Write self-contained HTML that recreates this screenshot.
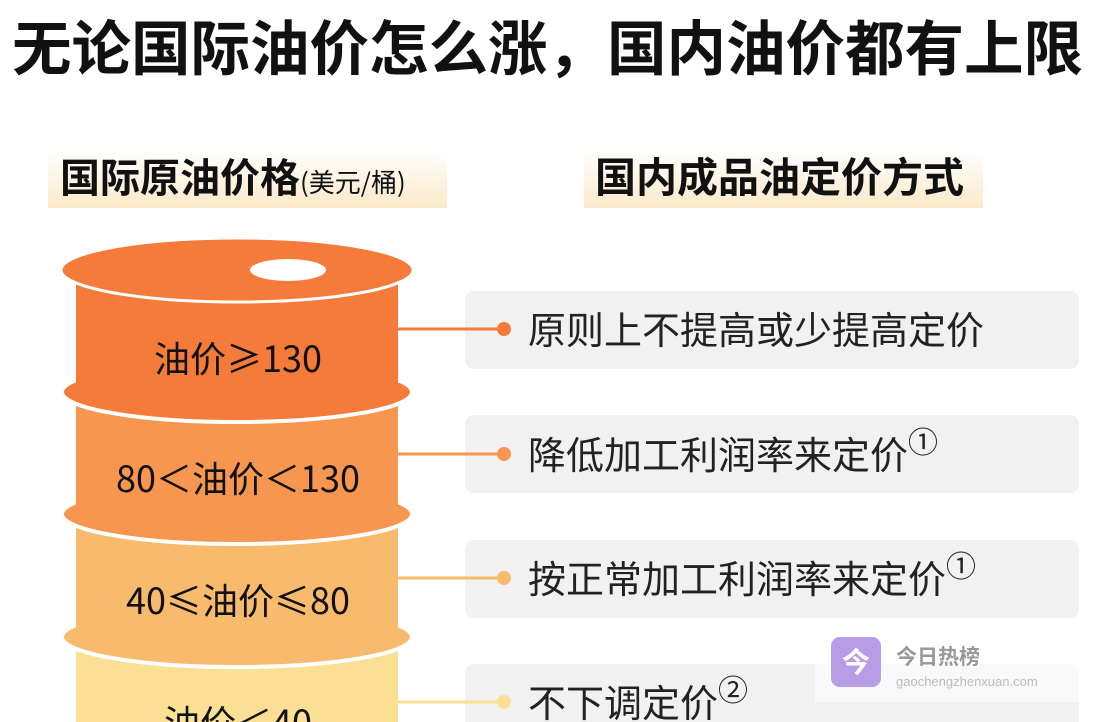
<!DOCTYPE html>
<html><head><meta charset="utf-8"><style>
html,body{margin:0;width:1116px;height:722px;overflow:hidden;background:#fff;font-family:"Liberation Sans","Noto Sans CJK SC",sans-serif;}
svg{display:block;overflow:hidden}
</style></head><body>
<svg width="1116" height="722" viewBox="0 0 1116 722" xmlns="http://www.w3.org/2000/svg">
<defs>
<linearGradient id="hl" x1="0" y1="0" x2="0" y2="1"><stop offset="0" stop-color="#fff"/><stop offset="1" stop-color="#fbe9c8"/></linearGradient>
<clipPath id="c"><rect x="0" y="0" width="1116" height="722"/></clipPath>
</defs>
<g clip-path="url(#c)">
<text x="12" y="70" font-family="Noto Sans CJK SC, sans-serif" font-weight="bold" font-size="59.5" fill="#111">无论国际油价怎么涨，国内油价都有上限</text>
<rect x="48" y="150" width="399" height="58" fill="url(#hl)"/>
<rect x="584" y="150" width="399" height="58" fill="url(#hl)"/>
<text x="60" y="192" font-family="Noto Sans CJK SC, sans-serif" font-weight="bold" font-size="40" fill="#111">国际原油价格<tspan font-size="26" font-weight="normal">(美元/桶)</tspan></text>
<text x="595" y="192" font-family="Noto Sans CJK SC, sans-serif" font-weight="bold" font-size="41" fill="#111">国内成品油定价方式</text>

<ellipse cx="237" cy="760" rx="175" ry="30" fill="#fbdf94" stroke="#fff" stroke-width="4"/>
<rect x="76" y="650" width="322" height="110" fill="#fbdf94"/>
<ellipse cx="237" cy="637" rx="175" ry="30" fill="#f8bb6e" stroke="#fff" stroke-width="4"/>
<rect x="76" y="528" width="322" height="109" fill="#f8bb6e"/>
<ellipse cx="237" cy="514" rx="175" ry="30" fill="#f6964f" stroke="#fff" stroke-width="4"/>
<rect x="76" y="405" width="322" height="109" fill="#f6964f"/>
<ellipse cx="237" cy="392" rx="175" ry="30" fill="#f47b3a" stroke="#fff" stroke-width="4"/>
<rect x="76" y="282" width="322" height="110" fill="#f47b3a"/>
<ellipse cx="237" cy="270" rx="176" ry="32" fill="#f47b3a" stroke="#fff" stroke-width="3"/>
<ellipse cx="288" cy="270" rx="38" ry="11" fill="#fff"/>

<g font-family="Noto Sans CJK SC, sans-serif" font-size="36" fill="#111" text-anchor="middle">
<text x="238" y="372">油价≥130</text>
<text x="238" y="492">80＜油价＜130</text>
<text x="238" y="614">40≤油价≤80</text>
<text x="238" y="736">油价＜40</text>
</g>

<rect x="465" y="291" width="614" height="78" rx="9" fill="#f1f1f1"/>
<rect x="465" y="415" width="614" height="78" rx="9" fill="#f1f1f1"/>
<rect x="465" y="540" width="614" height="78" rx="9" fill="#f1f1f1"/>
<rect x="465" y="664" width="614" height="78" rx="9" fill="#f1f1f1"/>
<line x1="398" y1="329" x2="504" y2="329" stroke="#f47b3a" stroke-width="3"/><circle cx="504" cy="329" r="7" fill="#f47b3a"/>
<line x1="398" y1="454" x2="504" y2="454" stroke="#f6964f" stroke-width="3"/><circle cx="504" cy="454" r="7" fill="#f6964f"/>
<line x1="398" y1="578" x2="504" y2="578" stroke="#f8bb6e" stroke-width="3"/><circle cx="504" cy="578" r="7" fill="#f8bb6e"/>
<line x1="398" y1="702" x2="504" y2="702" stroke="#fbdf94" stroke-width="3"/><circle cx="504" cy="702" r="7" fill="#fbdf94"/>

<g font-family="Noto Sans CJK SC, sans-serif" font-size="38" fill="#222">
<text x="528" y="344">原则上不提高或少提高定价</text>
<text x="528" y="469">降低加工利润率来定价<tspan font-size="30" dy="-16">①</tspan></text>
<text x="528" y="593">按正常加工利润率来定价<tspan font-size="30" dy="-16">①</tspan></text>
<text x="528" y="717">不下调定价<tspan font-size="30" dy="-16">②</tspan></text>
</g>

<rect x="815" y="662" width="265" height="40" fill="#fff" opacity="0.55"/>
<rect x="831" y="637" width="50" height="50" rx="9" fill="#b89de6"/>
<text x="856" y="672" text-anchor="middle" font-family="Noto Sans CJK SC, sans-serif" font-weight="bold" font-size="28" fill="#fff">今</text>
<text x="896" y="664" font-family="Noto Sans CJK SC, sans-serif" font-weight="bold" font-size="21" fill="#999">今日热榜</text>
<text x="896" y="686" font-family="Liberation Sans, sans-serif" font-size="13" fill="#bbb">gaochengzhenxuan.com</text>
</g>
</svg>
</body></html>
